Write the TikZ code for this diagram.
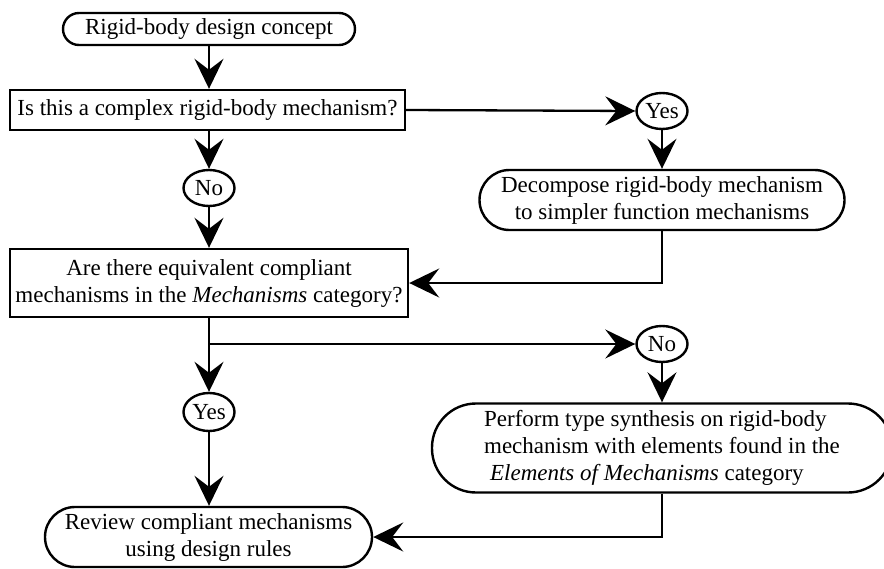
\documentclass[tikz,border=0pt]{standalone}
\usepackage{fontspec}
\setmainfont{Liberation Serif}
\usetikzlibrary{arrows.meta,shapes.geometric}

\tikzset{
  base/.style={draw, line width=2.4pt, inner sep=0pt, align=center,
    font=\fontsize{23}{27}\selectfont},
  procbox/.style={base, rectangle},
  termbox/.style={base, rectangle, rounded corners=#1},
  answer/.style={base, ellipse},
  arr/.style={line width=2.3pt, -{Stealth[length=30pt, width=29pt, inset=11pt]}},
}

\begin{document}
\begin{tikzpicture}[x=1pt, y=-1pt]
\useasboundingbox (0,0) rectangle (884,568);

% process steps
\node[termbox=16pt, minimum width=292pt, minimum height=32pt] (start) at (209,29)
  {Rigid-body design concept};
\node[procbox, minimum width=395pt, minimum height=40pt] (q1) at (207.5,110)
  {Is this a complex rigid-body mechanism?};
\node[answer, minimum width=51pt, minimum height=36pt] (yes1) at (662,111) {Yes};
\node[answer, minimum width=51pt, minimum height=36pt] (no1) at (209,188) {No};
\node[termbox=30pt, minimum width=365pt, minimum height=60pt] (decomp) at (662,200)
  {Decompose rigid-body mechanism\\to simpler function mechanisms};
\node[procbox, minimum width=398pt, minimum height=68pt] (q2) at (209,283)
  {Are there equivalent compliant\\mechanisms in the \textit{Mechanisms} category?};
\node[answer, minimum width=51pt, minimum height=36pt] (no2) at (662,344) {No};
\node[answer, minimum width=51pt, minimum height=38pt] (yes2) at (209,412) {Yes};
\node[termbox=44pt, minimum width=460pt, minimum height=89pt, align=left] (synth) at (662,448)
  {Perform type synthesis on rigid-body\\mechanism with elements found in the\\
   \hspace{6pt}\textit{Elements of Mechanisms} category};
\node[termbox=30pt, minimum width=327pt, minimum height=60pt] (review) at (208.5,537)
  {Review compliant mechanisms\\using design rules};

% connectors
\draw[arr] (start.south) -- (start.south |- q1.north);
\draw[arr] (q1.east) -- (yes1.west);
\draw[arr] (no1.north |- q1.south) -- (no1.north);
\draw[arr] (yes1.south) -- (decomp.north);
\draw[arr] (decomp.south) |- (q2.east);
\draw[arr] (no1.south) -- (no1.south |- q2.north);
\draw[arr] (yes2.north |- q2.south) -- (yes2.north);
\coordinate (split) at (yes2.north |- no2.west);
\draw[arr] (split) -- (no2.west);
\draw[arr] (no2.south) -- (synth.north);
\draw[arr] (yes2.south) -- (yes2.south |- review.north);
\draw[arr] (synth.south) |- (review.east);
\end{tikzpicture}
\end{document}
